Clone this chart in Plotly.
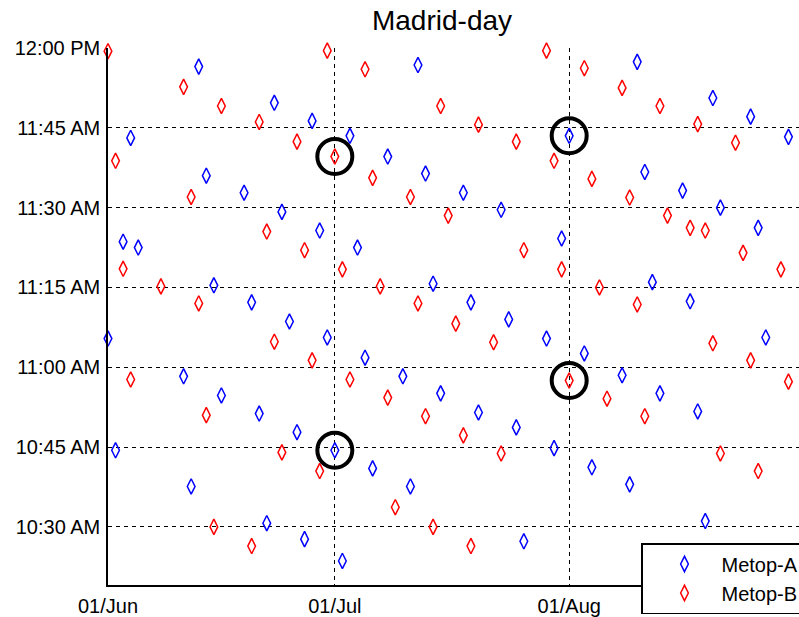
import plotly.graph_objects as go

# ---- data ----
metop_a_dates = [
    "2013-06-01", "2013-06-02", "2013-06-03", "2013-06-04", "2013-06-05",
    "2013-06-11", "2013-06-12", "2013-06-13", "2013-06-14", "2013-06-15",
    "2013-06-16", "2013-06-19", "2013-06-20", "2013-06-21", "2013-06-22",
    "2013-06-23", "2013-06-24", "2013-06-25", "2013-06-26", "2013-06-27",
    "2013-06-28", "2013-06-29", "2013-06-30", "2013-07-01", "2013-07-02",
    "2013-07-03", "2013-07-04", "2013-07-05", "2013-07-06", "2013-07-08",
    "2013-07-10", "2013-07-11", "2013-07-12", "2013-07-13", "2013-07-14",
    "2013-07-15", "2013-07-18", "2013-07-19", "2013-07-20", "2013-07-23",
    "2013-07-24", "2013-07-25", "2013-07-26", "2013-07-29", "2013-07-30",
    "2013-07-31", "2013-08-01", "2013-08-03", "2013-08-04", "2013-08-08",
    "2013-08-09", "2013-08-10", "2013-08-11", "2013-08-12", "2013-08-13",
    "2013-08-16", "2013-08-17", "2013-08-18", "2013-08-19", "2013-08-20",
    "2013-08-21", "2013-08-25", "2013-08-26", "2013-08-27", "2013-08-30",
]
metop_a_times = [
    "11:05:24", "10:44:24", "11:23:36", "11:43:06", "11:22:30",
    "10:58:18", "10:37:36", "11:56:30", "11:36:00", "11:15:24",
    "10:54:42", "11:32:48", "11:12:12", "10:51:18", "10:30:42",
    "11:49:42", "11:29:12", "11:08:36", "10:47:48", "10:27:42",
    "11:46:18", "11:25:42", "11:05:36", "10:44:24", "10:23:36",
    "11:43:30", "11:22:30", "11:01:48", "10:41:00", "11:39:36",
    "10:58:18", "10:37:36", "11:56:48", "11:36:24", "11:15:42",
    "10:55:06", "11:32:48", "11:12:12", "10:51:30", "11:29:36",
    "11:09:00", "10:48:42", "10:27:18", "11:05:24", "10:44:48",
    "11:24:12", "11:43:30", "11:02:36", "10:41:12", "10:58:30",
    "10:38:00", "11:57:24", "11:36:42", "11:16:00", "10:55:06",
    "11:33:12", "11:12:24", "10:51:42", "10:31:06", "11:50:36",
    "11:30:00", "11:47:06", "11:26:12", "11:05:36", "11:43:18",
]

metop_b_dates = [
    "2013-06-01", "2013-06-02", "2013-06-03", "2013-06-04", "2013-06-08",
    "2013-06-11", "2013-06-12", "2013-06-13", "2013-06-14", "2013-06-15",
    "2013-06-16", "2013-06-20", "2013-06-21", "2013-06-22", "2013-06-23",
    "2013-06-24", "2013-06-26", "2013-06-27", "2013-06-28", "2013-06-29",
    "2013-06-30", "2013-07-01", "2013-07-02", "2013-07-03", "2013-07-05",
    "2013-07-06", "2013-07-07", "2013-07-08", "2013-07-09", "2013-07-11",
    "2013-07-12", "2013-07-13", "2013-07-14", "2013-07-15", "2013-07-16",
    "2013-07-17", "2013-07-18", "2013-07-19", "2013-07-20", "2013-07-22",
    "2013-07-23", "2013-07-25", "2013-07-26", "2013-07-29", "2013-07-30",
    "2013-07-31", "2013-08-01", "2013-08-03", "2013-08-04", "2013-08-05",
    "2013-08-06", "2013-08-08", "2013-08-09", "2013-08-10", "2013-08-11",
    "2013-08-13", "2013-08-14", "2013-08-17", "2013-08-18", "2013-08-19",
    "2013-08-20", "2013-08-21", "2013-08-23", "2013-08-24", "2013-08-25",
    "2013-08-26", "2013-08-29", "2013-08-30",
]
metop_b_times = [
    "11:59:24", "11:38:48", "11:18:30", "10:57:42", "11:15:12",
    "11:52:42", "11:32:00", "11:12:00", "10:51:00", "10:30:00",
    "11:49:06", "10:26:24", "11:46:06", "11:25:30", "11:04:48",
    "10:44:00", "11:42:24", "11:22:00", "11:01:18", "10:40:30",
    "11:59:30", "11:39:36", "11:18:24", "10:57:42", "11:56:00",
    "11:35:36", "11:15:12", "10:54:18", "10:33:42", "11:32:00",
    "11:12:00", "10:50:48", "10:30:00", "11:49:06", "11:28:30",
    "11:08:12", "10:47:12", "10:26:24", "11:45:36", "11:04:42",
    "10:43:48", "11:42:24", "11:22:00", "11:59:30", "11:38:48",
    "11:18:24", "10:57:30", "11:56:12", "11:35:24", "11:15:00",
    "10:54:06", "11:52:30", "11:31:54", "11:11:48", "10:50:48",
    "11:49:06", "11:28:30", "11:26:12", "11:45:42", "11:25:42",
    "11:04:30", "10:43:48", "11:42:12", "11:21:30", "11:01:18",
    "10:40:30", "11:18:24", "10:57:18",
]

highlight_dates = ["2013-07-01", "2013-08-01", "2013-07-01", "2013-08-01"]
highlight_times = ["11:39:36", "11:43:30", "10:44:24", "10:57:30"]

x_tick_dates = ["2013-06-01", "2013-07-01", "2013-08-01"]
y_tick_times = ["10:30:00", "10:45:00", "11:00:00", "11:15:00",
                "11:30:00", "11:45:00", "12:00:00"]

x_range = ["2013-06-01 00:00", "2013-08-31 09:30"]
y_range = ["10:19:05", "12:00:00"]

DAY = "2000-01-01 "


def tod(times):
    return [DAY + t for t in times]


FONT = "Liberation Sans, Arial, sans-serif"

fig = go.Figure()
fig.add_trace(go.Scatter(
    x=metop_a_dates, y=tod(metop_a_times), mode="markers", name="Metop-A",
    cliponaxis=False,
    marker=dict(symbol="diamond-tall-open", size=11, color="#0000FF",
                line=dict(width=1.5, color="#0000FF")),
))
fig.add_trace(go.Scatter(
    x=metop_b_dates, y=tod(metop_b_times), mode="markers", name="Metop-B",
    cliponaxis=False,
    marker=dict(symbol="diamond-tall-open", size=11, color="#FF0000",
                line=dict(width=1.5, color="#FF0000")),
))
fig.add_trace(go.Scatter(
    x=highlight_dates, y=tod(highlight_times), mode="markers",
    showlegend=False, hoverinfo="skip", cliponaxis=False,
    marker=dict(symbol="circle-open", size=35, color="black",
                line=dict(width=4, color="black")),
))

fig.update_layout(
    width=799, height=617,
    margin=dict(l=108, r=0, t=48, b=32, autoexpand=False),
    paper_bgcolor="white", plot_bgcolor="white",
    font=dict(family=FONT, size=20, color="black"),
    title=dict(text="Madrid-day", x=442 / 799, xanchor="center",
               y=1 - 20 / 617, yanchor="middle",
               font=dict(family=FONT, size=28, color="black")),
    showlegend=True,
    legend=dict(x=(641 - 108) / 691, y=(585 - 543) / 537,
                xanchor="left", yanchor="top",
                bgcolor="white", bordercolor="black", borderwidth=1.5,
                font=dict(family=FONT, size=20, color="black"),
                itemwidth=64, indentation=5, tracegroupgap=0),
    xaxis=dict(
        type="date", range=x_range,
        tickvals=x_tick_dates, tickformat="%d/%b",
        showgrid=True, gridcolor="black", gridwidth=1, griddash="4px,4px",
        showline=True, linecolor="black", linewidth=1.5, mirror=False,
        zeroline=False, ticks="", ticklabelstandoff=2,
    ),
    yaxis=dict(
        type="date", range=[DAY + y_range[0], DAY + y_range[1]],
        tickvals=tod(y_tick_times), tickformat="%I:%M %p",
        showgrid=True, gridcolor="black", gridwidth=1, griddash="4px,4px",
        showline=True, linecolor="black", linewidth=1.5, mirror=False,
        zeroline=False, ticks="", ticklabelstandoff=2,
    ),
)

fig.write_html(
    "out.html",
    config={"displayModeBar": False},
    post_script="document.body.style.margin='0';document.body.style.overflow='hidden';",
)
